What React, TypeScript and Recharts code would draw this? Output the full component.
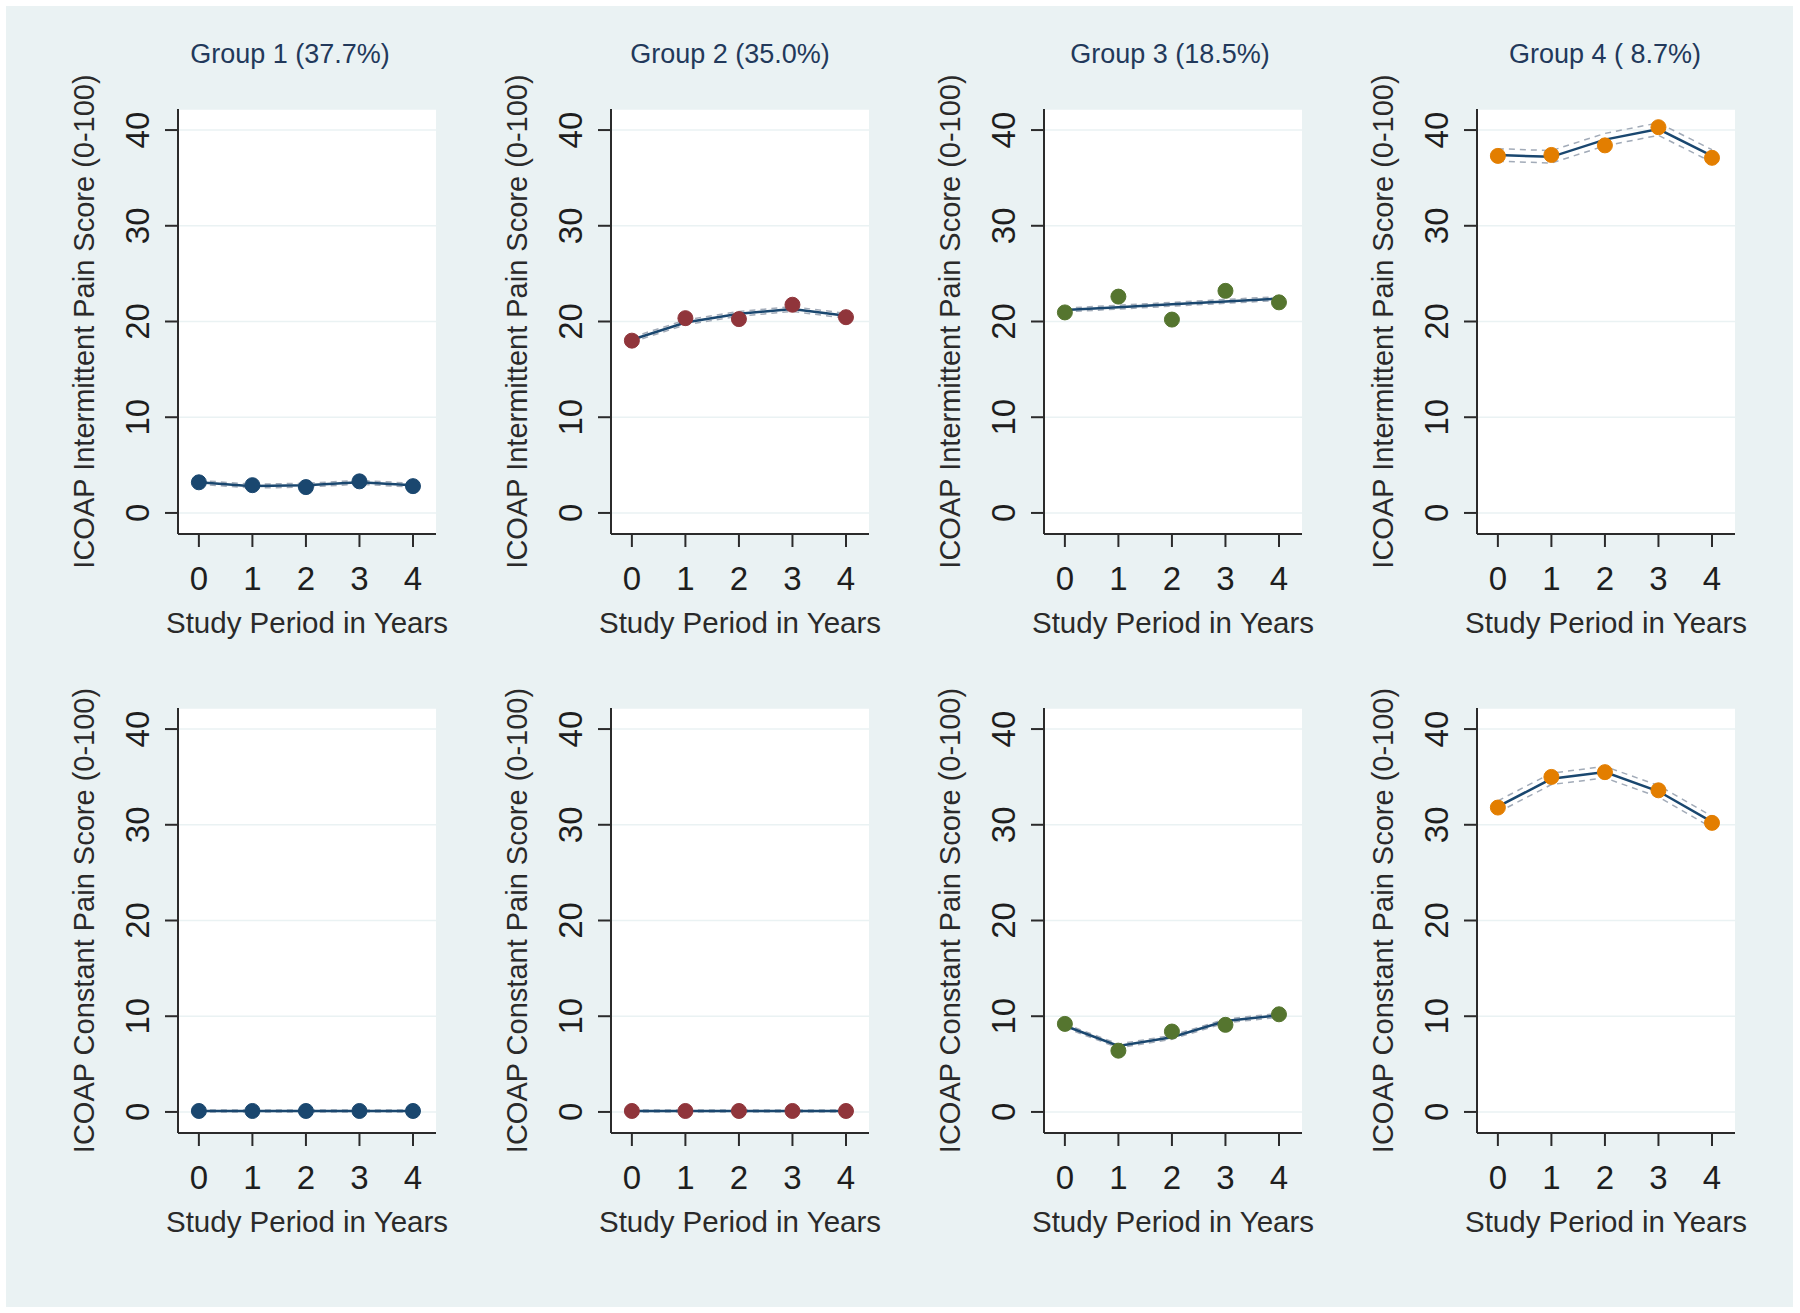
import React from "react";
import { ComposedChart, Line, XAxis, YAxis, CartesianGrid, Label } from "recharts";

// study years on the x axis
const years = [0, 1, 2, 3, 4];
const yTicks = [0, 10, 20, 30, 40];

const groupTitles = ["Group 1 (37.7%)", "Group 2 (35.0%)", "Group 3 (18.5%)", "Group 4 ( 8.7%)"];
const groupColors = ["#1a476f", "#90353b", "#55752f", "#e37e00"];
const rowLabels = ["ICOAP Intermittent Pain Score (0-100)", "ICOAP Constant Pain Score (0-100)"];

// intermittent pain: observed means, fitted trajectory, CI bounds
const g1IntObs = [3.2, 2.9, 2.7, 3.3, 2.8];
const g1IntFit = [3.2, 2.8, 2.9, 3.2, 2.9];
const g1IntLo = [3.0, 2.6, 2.7, 3.0, 2.7];
const g1IntHi = [3.4, 3.0, 3.1, 3.4, 3.1];

const g2IntObs = [18.0, 20.35, 20.25, 21.75, 20.45];
const g2IntFit = [18.1, 19.9, 20.8, 21.3, 20.6];
const g2IntLo = [17.85, 19.65, 20.55, 21.05, 20.35];
const g2IntHi = [18.35, 20.15, 21.05, 21.55, 20.85];

const g3IntObs = [20.95, 22.6, 20.2, 23.2, 22.0];
const g3IntFit = [21.2, 21.5, 21.8, 22.1, 22.4];
const g3IntLo = [21.0, 21.3, 21.6, 21.9, 22.2];
const g3IntHi = [21.4, 21.7, 22.0, 22.3, 22.6];

const g4IntObs = [37.3, 37.4, 38.4, 40.3, 37.1];
const g4IntFit = [37.4, 37.2, 39.0, 40.1, 37.3];
const g4IntLo = [36.75, 36.55, 38.35, 39.45, 36.65];
const g4IntHi = [38.05, 37.85, 39.65, 40.75, 37.95];

// constant pain
const g1ConObs = [0.1, 0.1, 0.1, 0.1, 0.1];
const g1ConFit = [0.1, 0.1, 0.1, 0.1, 0.1];
const g1ConLo = [0.0, 0.0, 0.0, 0.0, 0.0];
const g1ConHi = [0.2, 0.2, 0.2, 0.2, 0.2];

const g2ConObs = [0.1, 0.1, 0.1, 0.1, 0.1];
const g2ConFit = [0.1, 0.1, 0.1, 0.1, 0.1];
const g2ConLo = [0.0, 0.0, 0.0, 0.0, 0.0];
const g2ConHi = [0.2, 0.2, 0.2, 0.2, 0.2];

const g3ConObs = [9.2, 6.4, 8.4, 9.1, 10.2];
const g3ConFit = [9.0, 6.9, 7.8, 9.5, 10.1];
const g3ConLo = [8.8, 6.7, 7.6, 9.3, 9.9];
const g3ConHi = [9.2, 7.1, 8.0, 9.7, 10.3];

const g4ConObs = [31.8, 35.0, 35.5, 33.6, 30.2];
const g4ConFit = [31.9, 34.8, 35.5, 33.5, 30.3];
const g4ConLo = [31.3, 34.2, 34.9, 32.9, 29.7];
const g4ConHi = [32.5, 35.4, 36.1, 34.1, 30.9];

const panels = [
  [g1IntObs, g1IntFit, g1IntLo, g1IntHi],
  [g2IntObs, g2IntFit, g2IntLo, g2IntHi],
  [g3IntObs, g3IntFit, g3IntLo, g3IntHi],
  [g4IntObs, g4IntFit, g4IntLo, g4IntHi],
  [g1ConObs, g1ConFit, g1ConLo, g1ConHi],
  [g2ConObs, g2ConFit, g2ConLo, g2ConHi],
  [g3ConObs, g3ConFit, g3ConLo, g3ConHi],
  [g4ConObs, g4ConFit, g4ConLo, g4ConHi],
];

const titleCenters = [290, 730, 1170, 1605];
const FONT = "'Liberation Sans', Arial, sans-serif";
const AXIS = "#2b2b2b";

function YTick({ x, y, payload }: any) {
  return (
    <text
      transform={`translate(${x - 13},${y}) rotate(-90)`}
      textAnchor="middle"
      fontSize={33}
      fontFamily={FONT}
      fill="#1e1e1e"
    >
      {payload.value}
    </text>
  );
}

function Panel({ idx }: { idx: number }) {
  const col = idx % 4;
  const row = Math.floor(idx / 4);
  const [obs, fit, lo, hi] = panels[idx];
  const data = years.map((yr, i) => ({ year: yr, obs: obs[i], fit: fit[i], lo: lo[i], hi: hi[i] }));
  const color = groupColors[col];

  return (
    <div style={{ position: "absolute", left: 8 + col * 433, top: row * 599 }}>
      <ComposedChart width={460} height={644} data={data} margin={{ top: 109, right: 32, left: 0, bottom: 0 }}>
        <CartesianGrid vertical={false} horizontal stroke="#eaf2f3" strokeWidth={1.5} fill="#ffffff" />
        <XAxis
          dataKey="year"
          type="number"
          domain={[-0.39, 4.43]}
          ticks={years}
          height={110}
          tickSize={13}
          tickMargin={20}
          stroke={AXIS}
          strokeWidth={2}
          tick={{ fontSize: 33, fontFamily: FONT, fill: "#1e1e1e" }}
          allowDataOverflow
        >
          <Label
            content={({ viewBox }: any) => (
              <text
                x={viewBox.x + viewBox.width / 2}
                y={viewBox.y + 99}
                textAnchor="middle"
                fontSize={29.5}
                fontFamily={FONT}
                fill="#2a2a2a"
              >
                Study Period in Years
              </text>
            )}
          />
        </XAxis>
        <YAxis
          type="number"
          domain={[-2.2, 42.2]}
          ticks={yTicks}
          width={170}
          tickSize={13}
          tickMargin={3}
          stroke={AXIS}
          strokeWidth={2}
          tick={<YTick />}
          allowDataOverflow
        >
          <Label
            content={({ viewBox }: any) => {
              const ax = viewBox.x + viewBox.width - 84;
              const cy = viewBox.y + viewBox.height / 2;
              return (
                <text
                  transform={`translate(${ax},${cy}) rotate(-90)`}
                  textAnchor="middle"
                  fontSize={29}
                  fontFamily={FONT}
                  fill="#2a2a2a"
                >
                  {rowLabels[row]}
                </text>
              );
            }}
          />
        </YAxis>
        <Line dataKey="lo" stroke="#a2abb8" strokeWidth={1.5} strokeDasharray="6 5" dot={false} isAnimationActive={false} />
        <Line dataKey="hi" stroke="#a2abb8" strokeWidth={1.5} strokeDasharray="6 5" dot={false} isAnimationActive={false} />
        <Line dataKey="fit" stroke="#1a476f" strokeWidth={2.5} dot={false} isAnimationActive={false} />
        <Line
          dataKey="obs"
          stroke="none"
          dot={{ r: 7.5, fill: color, stroke: color, strokeWidth: 1 }}
          isAnimationActive={false}
        />
      </ComposedChart>
    </div>
  );
}

export default function App() {
  return (
    <div style={{ position: "absolute", left: 0, top: 0, width: 1800, height: 1313, background: "#ffffff", overflow: "hidden" }}>
      <div style={{ position: "absolute", left: 6, top: 6, width: 1787, height: 1301, background: "#eaf2f3" }} />
      {groupTitles.map((t, i) => (
        <div
          key={t}
          style={{
            position: "absolute",
            left: titleCenters[i] - 150,
            width: 300,
            top: 38,
            textAlign: "center",
            fontFamily: FONT,
            fontSize: 27,
            lineHeight: "32px",
            color: "#22395b",
            whiteSpace: "pre",
          }}
        >
          {t}
        </div>
      ))}
      {panels.map((_, i) => (
        <Panel key={i} idx={i} />
      ))}
    </div>
  );
}
